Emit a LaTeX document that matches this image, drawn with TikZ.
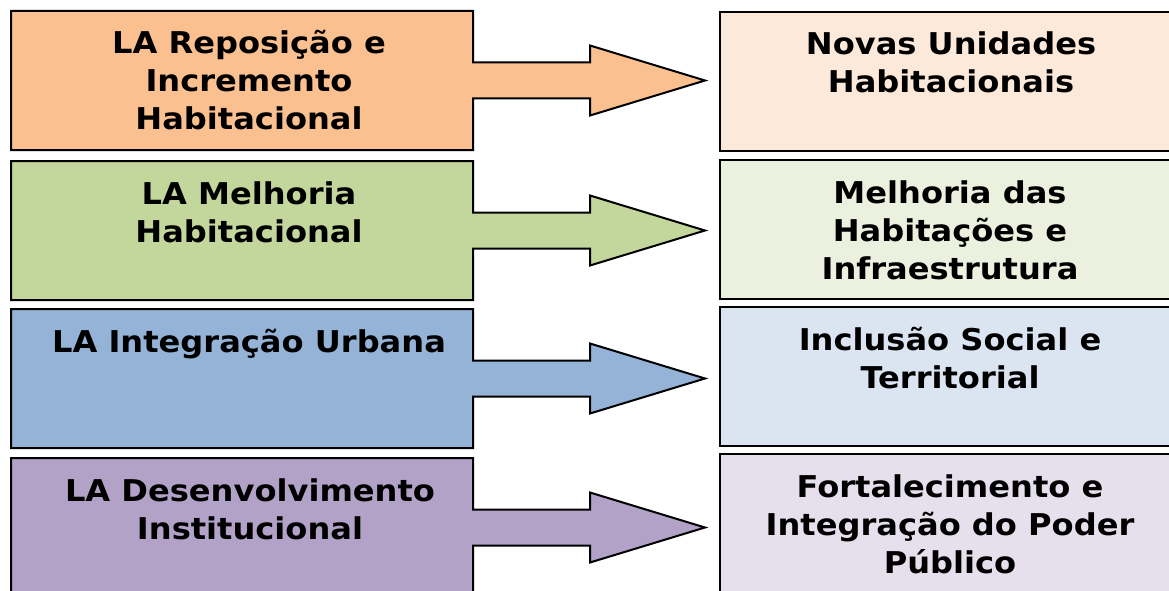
\documentclass[tikz,border=0pt]{standalone}
\usepackage{fontspec}
\setmainfont{DejaVu Sans}[FakeStretch=1.07]
\definecolor{laorange}{HTML}{FAC090}
\definecolor{lagreen}{HTML}{C3D69B}
\definecolor{lablue}{HTML}{95B3D7}
\definecolor{lapurple}{HTML}{B2A2C7}
\definecolor{raorange}{HTML}{FDE9D9}
\definecolor{ragreen}{HTML}{EBF1DE}
\definecolor{rablue}{HTML}{DBE5F1}
\definecolor{rapurple}{HTML}{E5E0EC}
\begin{document}
\begin{tikzpicture}[x=1pt,y=-1pt,
  shapeline/.style={draw=black,line width=2pt,line join=miter},
  lbl/.style={font=\fontsize{30}{38}\selectfont\bfseries,align=center,anchor=base,inner sep=0pt}]
\useasboundingbox (0,0) rectangle (1169,591);
\clip (0,0) rectangle (1169,591);
\foreach \t/\c in {11/laorange,161/lagreen,309/lablue,458/lapurple}{
  \draw[shapeline,fill=\c] (11,\t) -- (473,\t) -- (473,{\t+51.5}) -- (590,{\t+51.5})
    -- (590,{\t+34.5}) -- (705,{\t+69.5}) -- (590,{\t+104.5}) -- (590,{\t+87.5})
    -- (473,{\t+87.5}) -- (473,{\t+139}) -- (11,{\t+139}) -- cycle;
}
\foreach \t/\c in {12/raorange,160/ragreen,307/rablue,454/rapurple}{
  \draw[shapeline,fill=\c] (720,\t) rectangle (1181,{\t+139});
}
\node[lbl] (l1) at (249,130) {LA Reposição e\\Incremento\\Habitacional};
\node[lbl] (l2) at (249,242) {LA Melhoria\\Habitacional};
\node[lbl] (l3) at (249,352) {LA Integração Urbana};
\node[lbl] (l4) at (250,539) {LA Desenvolvimento\\Institucional};
\node[lbl] (r1) at (951,93) {Novas Unidades\\Habitacionais};
\node[lbl] (r2) at (950,279) {Melhoria das\\Habitações e\\Infraestrutura};
\node[lbl] (r3) at (950,388) {Inclusão Social e\\Territorial};
\node[lbl] (r4) at (950,573) {Fortalecimento e\\Integração do Poder\\Público};
\end{tikzpicture}
\end{document}
